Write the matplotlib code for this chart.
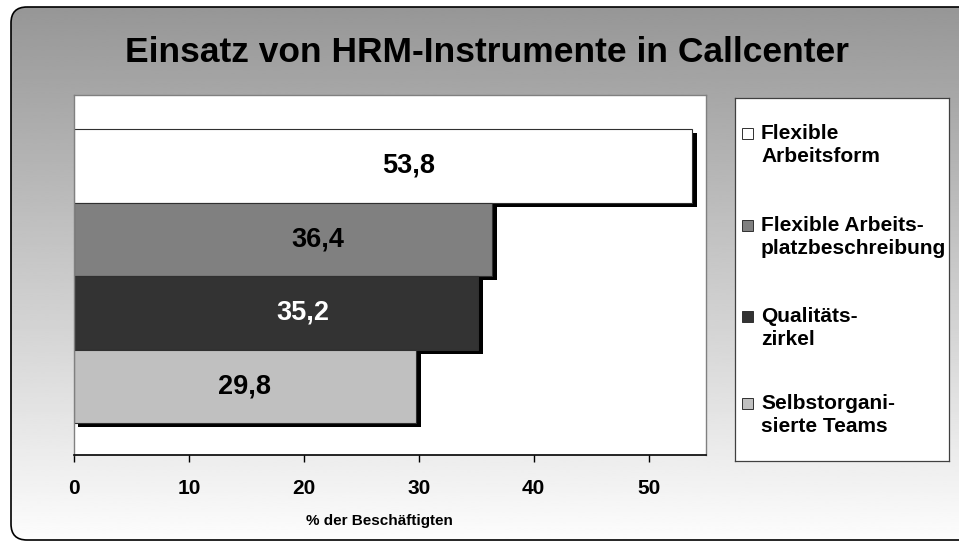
import numpy as np
import matplotlib
matplotlib.use("Agg")
import matplotlib.pyplot as plt
import matplotlib.patheffects as pe
from matplotlib.patches import FancyBboxPatch, Rectangle

plt.rcParams['font.family'] = ['Liberation Sans', 'DejaVu Sans']
plt.rcParams['font.weight'] = 'bold'

# data
series = ["Flexible\nArbeitsform", "Flexible Arbeits-\nplatzbeschreibung",
          "Qualitäts-\nzirkel", "Selbstorgani-\nsierte Teams"]
values = [53.8, 36.4, 35.2, 29.8]
value_labels = ["53,8", "36,4", "35,2", "29,8"]
label_x = [29.1, 21.2, 19.9, 14.8]
label_colors = ["black", "black", "white", "black"]
colors = ["#ffffff", "#808080", "#333333", "#c0c0c0"]
xticks = [0, 10, 20, 30, 40, 50]

W, H = 959, 544
fig = plt.figure(figsize=(W / 100, H / 100), dpi=100)
fig.patch.set_facecolor("white")

# gradient background inside rounded frame
bg = fig.add_axes([0, 0, 1, 1], zorder=-5)
bg.set_xlim(0, W)
bg.set_ylim(H, 0)
bg.axis("off")
grad = np.linspace(0.59, 0.99, 256).reshape(-1, 1)
im = bg.imshow(grad, cmap="gray", vmin=0, vmax=1, aspect="auto",
               extent=(11, 985, 540, 7), interpolation="bilinear")
frame = FancyBboxPatch((11, 7), 974, 533, boxstyle="round,pad=0,rounding_size=16",
                       facecolor="none", edgecolor="black", lw=1.2)
bg.add_patch(frame)
im.set_clip_path(frame)

fig.text(487 / W, 1 - 52 / H, "Einsatz von HRM-Instrumente in Callcenter",
         ha="center", va="center", fontsize=25.5, fontweight="bold")

# main plot
ax = fig.add_axes([74 / W, 1 - 455 / H, (706 - 74) / W, (455 - 95) / H])
ax.set_facecolor("white")
ypos = [3, 2, 1, 0]
for y, v, c in zip(ypos, values, colors):
    ax.barh(y, v, height=1.0, color=c, edgecolor="#303030", lw=0.8,
            path_effects=[pe.SimplePatchShadow(offset=(3.2, -3.2), shadow_rgbFace="black", alpha=1.0),
                          pe.Normal()])
for y, lx, lab, lc in zip(ypos, label_x, value_labels, label_colors):
    ax.text(lx, y, lab, ha="center", va="center", fontsize=19.5,
            fontweight="bold", color=lc)

ax.set_xlim(0, 55)
ax.set_ylim(-0.935, 3.963)
ax.set_yticks([])
ax.set_xticks(xticks)
ax.set_xticklabels([str(t) for t in xticks], fontsize=15, fontweight="bold")
ax.tick_params(axis="x", length=5, width=1, direction="out", pad=12, color="black")
ax.set_xlabel("% der Beschäftigten", fontsize=11, fontweight="bold")
ax.xaxis.set_label_coords(0.483, -0.165)
for s in ["top", "right", "left"]:
    ax.spines[s].set_color("#808080")
    ax.spines[s].set_linewidth(1.0)
ax.spines["bottom"].set_color("black")
ax.spines["bottom"].set_linewidth(1.2)

# legend box
lx0, lx1, ly0, ly1 = 735, 949, 98, 461
lax = fig.add_axes([lx0 / W, 1 - ly1 / H, (lx1 - lx0) / W, (ly1 - ly0) / H])
lax.set_xlim(lx0, lx1)
lax.set_ylim(ly1, ly0)
lax.set_xticks([])
lax.set_yticks([])
lax.set_facecolor("white")
for s in lax.spines.values():
    s.set_color("#404040")
    s.set_linewidth(0.9)
entry_y = [133, 225, 316, 403]
for name, c, ey in zip(series, colors, entry_y):
    lax.add_patch(Rectangle((742, ey - 5.5), 11, 11, facecolor=c,
                            edgecolor="#303030", lw=0.7))
    lax.text(761, ey + 12, name, ha="left", va="center", fontsize=15,
             fontweight="bold", linespacing=1.28)

fig.savefig("out.png", dpi=100, facecolor=fig.get_facecolor())
